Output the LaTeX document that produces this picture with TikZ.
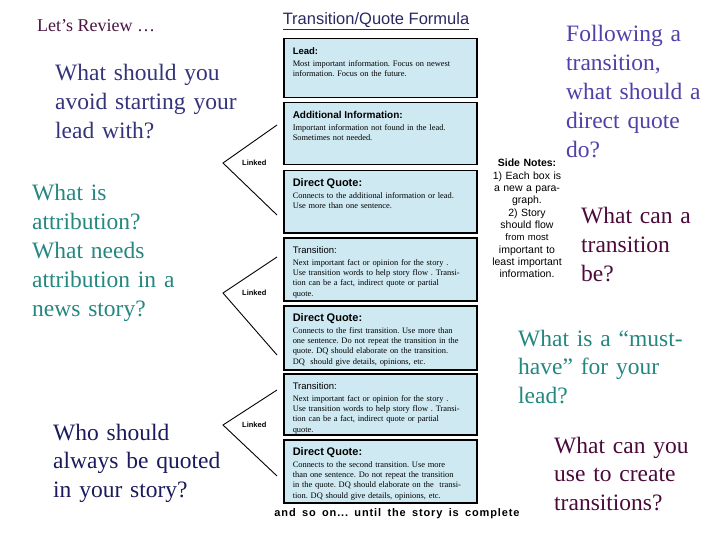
\documentclass[tikz,border=0pt]{standalone}
\usepackage{fontspec}
\setmainfont{Liberation Serif}
\setsansfont{Liberation Sans}
\newfontfamily\spacedsans[LetterSpace=8, WordSpace=1.6]{Liberation Sans}
\usetikzlibrary{positioning}

\definecolor{boxblue}{RGB}{206,233,242}
\definecolor{reviewcol}{RGB}{74,20,66}
\definecolor{indigoq}{RGB}{52,52,122}
\definecolor{tealq}{RGB}{36,135,128}
\definecolor{violetq}{RGB}{80,64,168}
\definecolor{maroonq}{RGB}{75,10,58}
\definecolor{navyq}{RGB}{26,26,92}
\definecolor{titlecol}{RGB}{42,42,96}

\newcommand{\boxhead}[2][10]{{\sffamily\bfseries\fontsize{#1}{#1}\selectfont #2}}
\frenchspacing

\begin{document}
\begin{tikzpicture}[
    x=1pt, y=-1pt,
    formbox/.style={draw=black, line width=1.5pt, fill=boxblue,
                    anchor=north west, text width=175pt,
                    inner xsep=9pt, inner ysep=6pt, text height=10pt,
                    align=left, font=\fontsize{8.4}{10.4}\selectfont},
    question/.style={anchor=base west, inner sep=0pt, align=left,
                     text width=190pt, font=\fontsize{23.5}{28.8}\selectfont},
    sidenote/.style={anchor=base, inner sep=0pt, align=center, text width=90pt,
                     font=\sffamily\fontsize{10.5}{12.3}\selectfont},
    linkline/.style={line width=0.9pt},
    linklabel/.style={font=\sffamily\bfseries\fontsize{7.5}{9}\selectfont, inner sep=0pt}
]
\useasboundingbox (0,0) rectangle (720,540);

% Title
\node[anchor=base, inner sep=0pt, text=titlecol, font=\sffamily\fontsize{16.5}{18}\selectfont]
    (title) at (376,25) {\underline{Transition/Quote Formula}};

% Formula boxes
\node[formbox, text depth=37pt] (lead) at (283,38)
    {\boxhead[9.5]{Lead:}\\[1pt]
     Most important information. Focus on newest\\
     information. Focus on the future.};
\node[formbox, text depth=40pt] (addinfo) at (283,102)
    {\boxhead{Additional Information:}\\[1pt]
     Important information not found in the lead.\\
     Sometimes not needed.};
\node[formbox, text depth=40pt] (quoteA) at (283,170)
    {\boxhead[11]{Direct Quote:}\\[1pt]
     Connects to the additional information or lead.\\
     Use more than one sentence.};
\node[formbox, text depth=41pt] (transA) at (283,237)
    {{\sffamily\fontsize{9.5}{9.5}\selectfont Transition:}\\[1pt]
     Next important fact or opinion for the story .\\
     Use transition words to help story flow . Transi-\\
     tion can be a fact, indirect quote or partial\\
     quote.};
\node[formbox, text depth=42pt] (quoteB) at (283,305)
    {\boxhead[11]{Direct Quote:}\\[1pt]
     Connects to the first transition. Use more than\\
     one sentence. Do not repeat the transition in the\\
     quote. DQ should elaborate on the transition.\\
     DQ\ \ should give details, opinions, etc.};
\node[formbox, text depth=39pt] (transB) at (283,373)
    {{\sffamily\fontsize{9.5}{9.5}\selectfont Transition:}\\[1pt]
     Next important fact or opinion for the story .\\
     Use transition words to help story flow . Transi-\\
     tion can be a fact, indirect quote or partial\\
     quote.};
\node[formbox, text depth=41pt] (quoteC) at (283,439)
    {\boxhead[11]{Direct Quote:}\\[1pt]
     Connects to the second transition. Use more\\
     than one sentence. Do not repeat the transition\\
     in the quote. DQ should elaborate on the\ \ transi-\\
     tion. DQ should give details, opinions, etc.};

\node[anchor=base, inner sep=0pt, font=\spacedsans\bfseries\fontsize{11}{13}\selectfont]
    (ending) at (397,516) {and so on... until the story is complete};

% Linked brackets
\coordinate (v1) at (223,163);
\coordinate (a1) at (277,125);
\coordinate (b1) at (277,215);
\coordinate (v2) at (223,293);
\coordinate (a2) at (277,257);
\coordinate (b2) at (277,355);
\coordinate (v3) at (223,425);
\coordinate (a3) at (277,390);
\coordinate (b3) at (277,476);

\draw[linkline] (a1) -- (v1) -- (b1);
\draw[linkline] (a2) -- (v2) -- (b2);
\draw[linkline] (a3) -- (v3) -- (b3);

\node[linklabel, right=19pt of v1] (link1) {Linked};
\node[linklabel, right=19pt of v2] (link2) {Linked};
\node[linklabel, right=19pt of v3] (link3) {Linked};

% Side notes
\node[sidenote] (notes) at (527,167)
    {{\bfseries Side Notes:}\\
     1) Each box is\\
     a new a para-\\
     graph.\\
     2) Story\\
     should flow\\
     {\fontsize{9.5}{12.3}\selectfont from most}\\
     important to\\
     least important\\
     information.};

% Review questions
\node[anchor=base west, inner sep=0pt, text=reviewcol, font=\fontsize{18}{20}\selectfont]
    (review) at (37,32) {Let’s Review …};
\node[question, text=indigoq] (q1) at (55,81)
    {What should you\\ avoid starting your\\ lead with?};
\node[question, text=tealq] (q2) at (32,201)
    {What is\\ attribution?\\ What needs\\ attribution in a\\ news story?};
\node[question, text=navyq] (q7) at (53,440)
    {Who should\\ always be quoted\\ in your story?};
\node[question, text=violetq, text width=150pt] (q3) at (566,42)
    {Following a\\ transition,\\ what should a\\ direct quote\\ do?};
\node[question, text=maroonq, text width=138pt] (q4) at (581,224)
    {What can a\\ transition\\ be?};
\node[question, text=tealq, text width=200pt] (q5) at (518,346)
    {What is a “must-\\ have” for your\\ lead?};
\node[question, text=maroonq, text width=166pt] (q6) at (554,453)
    {What can you\\ use to create\\ transitions?};

\end{tikzpicture}
\end{document}
